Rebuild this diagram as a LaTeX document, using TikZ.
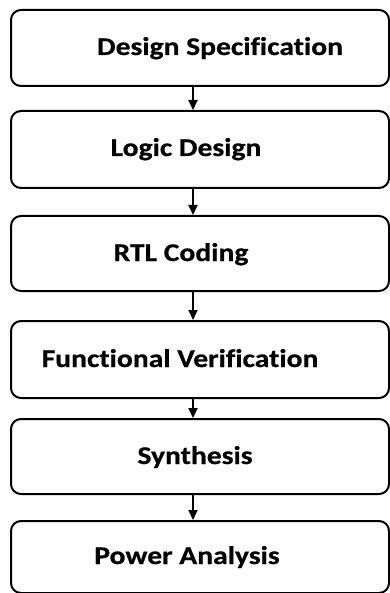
\documentclass[tikz,border=0pt]{standalone}
\usepackage{fontspec}
\setmainfont{Carlito}[Ligatures={NoCommon},BoldFeatures={FakeStretch=1.16,FakeBold=0.6}]
\usetikzlibrary{arrows.meta}
\begin{document}
\begin{tikzpicture}[x=1pt,y=-1pt,
  stage/.style={draw=black,line width=2pt,rounded corners=10pt,
    minimum width=378pt,inner sep=0pt,anchor=north west},
  label/.style={anchor=base,inner sep=0pt,font=\fontsize{25.5}{30}\selectfont\bfseries},
  flow/.style={line width=2pt,-{Triangle[width=9pt,length=10pt]}}]
\useasboundingbox (0,0) rectangle (389,593);
% stage boxes: top edge and height
\node[stage,minimum height=76pt] (b1) at (10,9) {};
\node[stage,minimum height=77pt] (b2) at (10,110) {};
\node[stage,minimum height=75pt] (b3) at (10,215) {};
\node[stage,minimum height=77pt] (b4) at (10,320) {};
\node[stage,minimum height=75pt] (b5) at (10,418) {};
\node[stage,minimum height=72pt] (b6) at (10,520) {};
% stage titles
\node[label] (t1) at (220,55) {Design Specification};
\node[label] (t2) at (186,156) {Logic Design};
\node[label] (t3) at (181,261) {RTL Coding};
\node[label] (t4) at (180,367) {Functional Verification};
\node[label] (t5) at (195,464) {Synthesis};
\node[label] (t6) at (187,564) {Power Analysis};
% connectors
\coordinate (ax) at (193,0);
\draw[flow] (b1.south -| ax) -- (b2.north -| ax);
\draw[flow] (b2.south -| ax) -- (b3.north -| ax);
\draw[flow] (b3.south -| ax) -- (b4.north -| ax);
\draw[flow] (b4.south -| ax) -- (b5.north -| ax);
\draw[flow] (b5.south -| ax) -- (b6.north -| ax);
\end{tikzpicture}
\end{document}
